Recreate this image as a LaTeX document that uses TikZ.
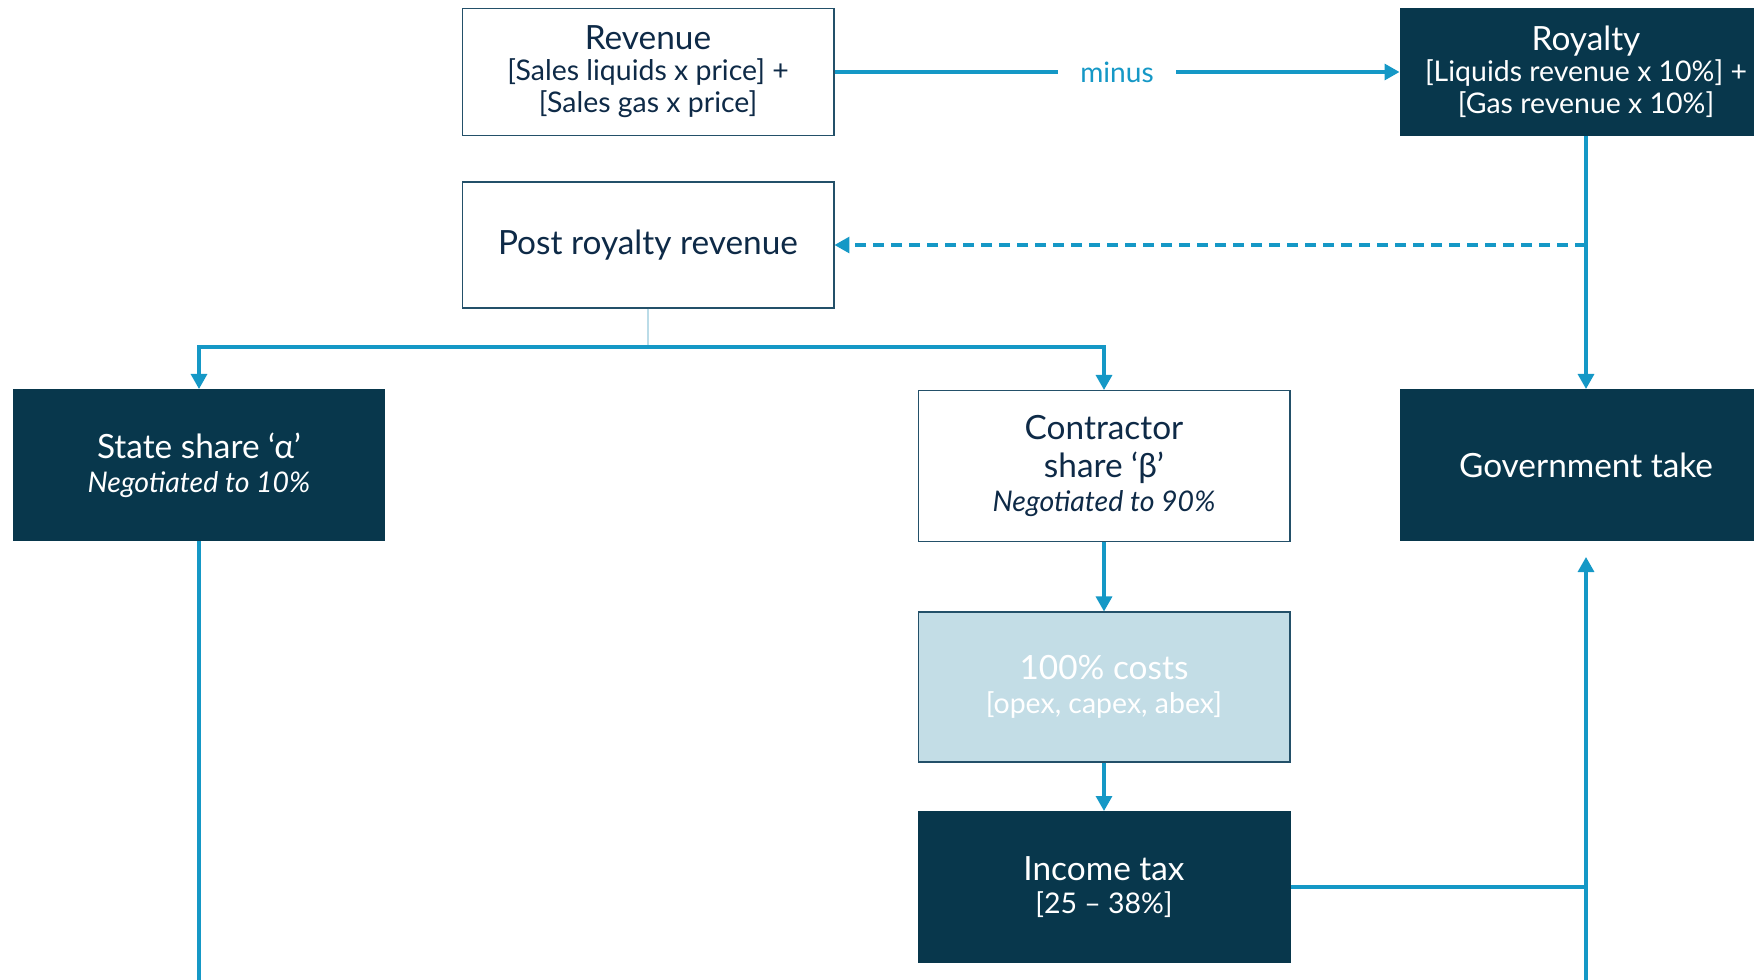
\documentclass[tikz,border=0pt]{standalone}
\usepackage{fontspec}
\setmainfont{Lato}
\usepackage{tikz}
\usetikzlibrary{arrows.meta,positioning}
\definecolor{petrol}{RGB}{8,55,76}
\definecolor{inkblue}{RGB}{14,42,71}
\definecolor{flowblue}{RGB}{21,152,198}
\definecolor{edgeblue}{RGB}{35,80,105}
\definecolor{costblue}{RGB}{195,221,230}
\definecolor{stubblue}{RGB}{187,220,232}
\newcommand{\headfont}{\fontsize{19}{23}\selectfont}
\newcommand{\subfont}{\fontsize{16.2}{18.5}\selectfont}

\begin{document}
\begin{tikzpicture}[x=0.02cm, y=-0.02cm, line width=1.8pt,
    >={Triangle[length=0.3cm,width=0.32cm]},
    flow/.style={draw=flowblue, ->},
    lightbox/.style={draw=edgeblue, line width=0.6pt, fill=white, text=inkblue,
        align=center, inner sep=0pt, minimum width=7.44cm, font=\subfont},
    darkbox/.style={draw=petrol, line width=0.6pt, fill=petrol, text=white,
        align=center, inner sep=0pt, minimum width=7.44cm, font=\subfont},
    costbox/.style={draw=edgeblue, line width=0.6pt, fill=costblue, text=white,
        align=center, inner sep=0pt, minimum width=7.44cm, font=\subfont}]
    \clip (0,0) rectangle (1754,980);
    % top row
    \node[lightbox, minimum height=2.54cm] (revenue) at (648,72)
        {{\headfont Revenue}\\[-1pt] {[Sales liquids x price] +}\\ {[Sales gas x price]}};
    \node[darkbox, minimum height=2.54cm] (royalty) at (1586,72)
        {{\headfont Royalty}\\[-1pt] {[Liquids revenue x 10\%] +}\\ {[Gas revenue x 10\%]}};
    \node[lightbox, minimum height=2.52cm, font=\headfont] (post) at (648,245)
        {Post royalty revenue};
    % shares
    \node[darkbox, minimum height=3.02cm] (state) at (199,465)
        {{\headfont State share ‘α’}\\[1pt] \textit{Negotiated to 10\%}};
    \node[lightbox, minimum height=3.02cm] (contractor) at (1104,466)
        {{\headfont Contractor}\\[3.5pt] {\headfont share ‘β’}\\[1pt] \textit{Negotiated to 90\%}};
    \node[darkbox, minimum height=3.02cm, font=\headfont] (gov) at (1586,465)
        {Government take};
    \node[costbox, minimum height=3.0cm] (costs) at (1104,687)
        {{\headfont 100\% costs}\\[1pt] {[opex, capex, abex]}};
    \node[darkbox, minimum height=3.02cm] (income) at (1104,887)
        {{\headfont Income tax}\\[0pt] {[25 -- 38\%]}};
    % connectors
    \coordinate (split) at (648,347);
    \coordinate (stateend) at (199,990);
    \coordinate (govfeed) at (1586,990);
    \draw[flow] (revenue.east) -- node[fill=white, text=flowblue, inner xsep=0.45cm,
        font=\fontsize{16}{19}\selectfont]{minus} (royalty.west);
    \draw[flow] (royalty.south) -- (gov.north);
    \draw[flow, dash pattern=on 0.22cm off 0.14cm] (post.east -| royalty.south) -- (post.east);
    \draw[stubblue, line width=1.4pt] (post.south) -- (split);
    \draw[flow] (split) -| (state.north);
    \draw[flow] (split) -| (contractor.north);
    \draw[flow] (contractor.south) -- (costs.north);
    \draw[flow] (costs.south) -- (income.north);
    \draw[flowblue] (state.south) -- (stateend);
    \draw[flowblue] (income.east) -- (income.east -| gov.south);
    \draw[flow, shorten >=0.32cm] (govfeed) -- (gov.south);
\end{tikzpicture}
\end{document}
